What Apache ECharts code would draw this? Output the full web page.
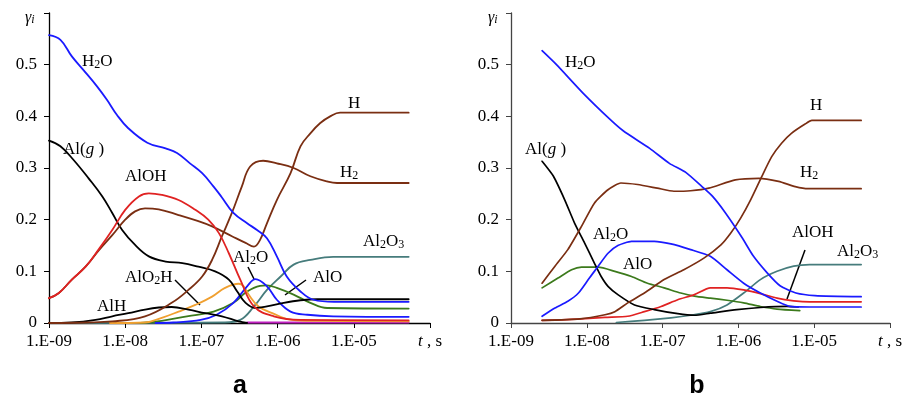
<!DOCTYPE html>
<html>
<head>
<meta charset="utf-8">
<script src="https://cdn.jsdelivr.net/npm/echarts@6/dist/echarts.min.js"></script>
<style>
html, body { margin: 0; padding: 0; background: #fff; }
#chart { width: 905px; height: 397px; }
</style>
</head>
<body>
<div id="chart"></div>
<script>
// time is kept as log10(t, s); values are mole fractions gamma_i

// ---- panel a ----
const aH2O_t = [-9, -8.85, -8.70, -8.55, -8.37, -8.24, -8.11, -7.96, -7.71, -7.47, -7.32, -7.15, -6.99, -6.84, -6.74, -6.58, -6.40, -6.27, -6.14, -6.01, -5.88, -5.70, -5.53, -5.26, -4.28];
const aH2O_v = [0.557, 0.548, 0.516, 0.490, 0.458, 0.432, 0.403, 0.377, 0.349, 0.338, 0.329, 0.309, 0.290, 0.264, 0.245, 0.213, 0.193, 0.180, 0.164, 0.129, 0.090, 0.061, 0.045, 0.041, 0.041];
const aH_t = [-9, -8.87, -8.70, -8.52, -8.35, -8.17, -8.0, -7.87, -7.74, -7.56, -7.30, -7.04, -6.86, -6.60, -6.42, -6.31, -6.23, -6.14, -6.01, -5.83, -5.70, -5.57, -5.44, -5.31, -5.18, -4.28];
const aH_v = [0.048, 0.058, 0.084, 0.109, 0.140, 0.170, 0.200, 0.216, 0.222, 0.220, 0.209, 0.197, 0.187, 0.168, 0.155, 0.148, 0.161, 0.193, 0.238, 0.290, 0.342, 0.367, 0.387, 0.400, 0.407, 0.407];
const aH2_t = [-9, -8.5, -8.17, -7.74, -7.39, -7.17, -6.99, -6.86, -6.73, -6.60, -6.47, -6.36, -6.19, -6.01, -5.79, -5.57, -5.35, -5.22, -4.28];
const aH2_v = [0, 0.001, 0.003, 0.013, 0.039, 0.064, 0.090, 0.122, 0.168, 0.213, 0.264, 0.303, 0.314, 0.309, 0.300, 0.284, 0.274, 0.271, 0.271];
const aAlOH_t = [-9, -8.87, -8.70, -8.52, -8.35, -8.17, -8.0, -7.82, -7.69, -7.52, -7.30, -7.08, -6.91, -6.77, -6.64, -6.49, -6.31, -6.05, -5.70, -4.28];
const aAlOH_v = [0.048, 0.058, 0.084, 0.109, 0.142, 0.180, 0.219, 0.245, 0.251, 0.248, 0.238, 0.219, 0.200, 0.174, 0.135, 0.084, 0.032, 0.013, 0.006, 0.005];
const aAlg_t = [-9, -8.85, -8.68, -8.48, -8.30, -8.17, -8.04, -7.87, -7.69, -7.47, -7.25, -7.04, -6.82, -6.64, -6.53, -6.42, -6.29, -6.14, -5.92, -5.70, -5.48, -4.28];
const aAlg_v = [0.353, 0.342, 0.316, 0.280, 0.245, 0.213, 0.180, 0.151, 0.129, 0.119, 0.116, 0.109, 0.100, 0.084, 0.061, 0.039, 0.029, 0.032, 0.039, 0.044, 0.046, 0.046];
const aAlH_t = [-9, -8.7, -8.39, -8.17, -7.96, -7.74, -7.56, -7.39, -7.17, -6.95, -6.73, -6.51, -6.40];
const aAlH_v = [0, 0.001, 0.006, 0.013, 0.019, 0.026, 0.030, 0.031, 0.026, 0.019, 0.013, 0.003, 0];
const aAlO2H_t = [-8.2, -7.74, -7.52, -7.30, -7.08, -6.86, -6.69, -6.51, -6.45, -6.38, -6.25, -6.07, -5.81, -5.5, -4.28];
const aAlO2H_v = [0, 0.001, 0.010, 0.022, 0.035, 0.051, 0.068, 0.076, 0.072, 0.055, 0.032, 0.019, 0.006, 0.004, 0.003];
const aAl2O_t = [-7.6, -7.37, -7.01, -6.80, -6.58, -6.40, -6.29, -6.14, -6.01, -5.83, -5.61, -5.27, -4.28];
const aAl2O_v = [0, 0.001, 0.006, 0.016, 0.039, 0.071, 0.085, 0.071, 0.045, 0.022, 0.016, 0.013, 0.012];
const aAlO_t = [-7.8, -7.52, -7.19, -6.84, -6.58, -6.40, -6.23, -6.14, -6.01, -5.79, -5.57, -5.35, -4.28];
const aAlO_v = [0, 0.004, 0.013, 0.022, 0.039, 0.061, 0.072, 0.073, 0.068, 0.055, 0.039, 0.029, 0.028];
const aAl2O3_t = [-9, -6.7, -6.49, -6.31, -6.14, -5.96, -5.79, -5.57, -5.27, -4.28];
const aAl2O3_v = [0, 0.001, 0.006, 0.032, 0.064, 0.090, 0.113, 0.122, 0.128, 0.128];
const aMinor_t = [-6.4, -4.28];
const aMinor_v = [0.001, 0.001];

// ---- panel b ----
const bH2O_t = [-8.59, -8.40, -8.05, -7.70, -7.52, -7.17, -6.91, -6.69, -6.48, -6.34, -6.17, -5.95, -5.80, -5.62, -5.45, -5.24, -4.99, -4.38];
const bH2O_v = [0.527, 0.500, 0.445, 0.395, 0.372, 0.338, 0.309, 0.291, 0.264, 0.245, 0.213, 0.165, 0.129, 0.097, 0.072, 0.058, 0.053, 0.051];
const bH_t = [-8.59, -8.09, -7.76, -7.63, -7.46, -7.24, -6.98, -6.72, -6.45, -6.23, -6.10, -5.97, -5.84, -5.69, -5.56, -5.43, -5.30, -5.12, -5.03, -4.38];
const bH_v = [0.005, 0.008, 0.016, 0.022, 0.039, 0.058, 0.084, 0.103, 0.126, 0.151, 0.174, 0.203, 0.238, 0.284, 0.322, 0.348, 0.367, 0.385, 0.392, 0.392];
const bH2_t = [-8.59, -8.42, -8.25, -8.07, -7.90, -7.72, -7.55, -7.33, -7.07, -6.85, -6.63, -6.39, -6.04, -5.73, -5.47, -5.25, -5.08, -4.38];
const bH2_v = [0.077, 0.110, 0.142, 0.187, 0.232, 0.258, 0.271, 0.268, 0.261, 0.255, 0.256, 0.261, 0.277, 0.280, 0.274, 0.264, 0.260, 0.260];
const bAlg_t = [-8.59, -8.44, -8.29, -8.16, -8.03, -7.90, -7.81, -7.72, -7.59, -7.37, -7.11, -6.80, -6.58, -6.37, -6.02, -5.71, -5.36, -5.21];
const bAlg_v = [0.313, 0.284, 0.238, 0.193, 0.155, 0.116, 0.090, 0.071, 0.055, 0.035, 0.026, 0.018, 0.015, 0.019, 0.026, 0.030, 0.032, 0.031];
const bAl2O_t = [-8.59, -8.42, -8.25, -8.11, -7.98, -7.85, -7.72, -7.59, -7.41, -7.11, -6.89, -6.63, -6.37, -6.15, -5.93, -5.71, -5.49, -5.32, -5.06, -4.38];
const bAl2O_v = [0.013, 0.029, 0.042, 0.058, 0.084, 0.110, 0.135, 0.150, 0.158, 0.158, 0.153, 0.142, 0.129, 0.103, 0.077, 0.058, 0.042, 0.032, 0.031, 0.031];
const bAlO_t = [-8.59, -8.38, -8.20, -8.07, -7.85, -7.63, -7.41, -7.20, -6.98, -6.76, -6.58, -6.37, -6.15, -5.93, -5.71, -5.49, -5.19];
const bAlO_v = [0.068, 0.087, 0.103, 0.108, 0.108, 0.100, 0.090, 0.077, 0.068, 0.058, 0.052, 0.048, 0.044, 0.039, 0.032, 0.027, 0.024];
const bAlOH_t = [-8.59, -8.33, -8.07, -7.76, -7.46, -7.24, -7.02, -6.80, -6.58, -6.37, -6.15, -5.93, -5.71, -5.49, -5.27, -5.06, -4.38];
const bAlOH_v = [0.005, 0.006, 0.008, 0.011, 0.013, 0.022, 0.032, 0.045, 0.055, 0.068, 0.068, 0.064, 0.057, 0.048, 0.043, 0.041, 0.041];
const bAl2O3_t = [-7.61, -7.24, -6.89, -6.63, -6.37, -6.15, -5.93, -5.71, -5.49, -5.27, -5.06, -4.38];
const bAl2O3_v = [0.001, 0.005, 0.010, 0.015, 0.022, 0.035, 0.058, 0.084, 0.100, 0.110, 0.113, 0.113];

const BLUE = '#1a1aff', RED = '#e02222', BROWN = '#7a2e12', BLACK = '#000000',
      GREEN = '#3c7a1c', ORANGE = '#f0a030', TEAL = '#467c7c', MAGENTA = '#c020c0';
const SERIF = '"Liberation Serif", "DejaVu Serif", serif';

function pts(ts, vs) {
  return ts.map((L, i) => [Math.pow(10, L), vs[i]]);
}

function curve(ts, vs, color, idx) {
  return {
    type: 'line',
    xAxisIndex: idx,
    yAxisIndex: idx,
    data: pts(ts, vs),
    showSymbol: false,
    smooth: idx === 0 ? 0.4 : 0.2,
    silent: true,
    lineStyle: { color: color, width: idx === 0 ? 1.8 : 1.7, cap: 'round', join: 'round' },
    itemStyle: { color: color }
  };
}

function xAxis(idx, color) {
  return {
    type: 'log',
    logBase: 10,
    gridIndex: idx,
    min: 1e-9,
    max: 1e-4,
    axisLine: { show: true, lineStyle: { color: color, width: 1.3 } },
    axisTick: { show: true, inside: false, length: 5, lineStyle: { color: color } },
    splitLine: { show: false },
    axisLabel: {
      margin: 10,
      color: '#000',
      fontFamily: SERIF,
      fontSize: 17,
      formatter: function (v) {
        const e = Math.round(Math.log10(v));
        if (e >= -4) return '{i|t}{n| , s}';
        return '1.E-' + (Math.abs(e) < 10 ? '0' : '') + Math.abs(e);
      },
      rich: {
        i: { fontFamily: SERIF, fontSize: 17, fontStyle: 'italic', color: '#000' },
        n: { fontFamily: SERIF, fontSize: 17, color: '#000' }
      }
    }
  };
}

function yAxis(idx, color) {
  return {
    type: 'value',
    gridIndex: idx,
    min: 0,
    max: 0.6,
    interval: 0.1,
    axisLine: { show: true, lineStyle: { color: color, width: 1.3 } },
    axisTick: { show: true, inside: false, length: 5, lineStyle: { color: color } },
    splitLine: { show: false },
    axisLabel: {
      margin: 12,
      color: '#000',
      fontFamily: SERIF,
      fontSize: 17,
      formatter: function (v) {
        if (v > 0.55) return '';
        if (v === 0) return '0';
        return v.toFixed(1);
      }
    }
  };
}

const rich = {
  n: { fontFamily: SERIF, fontSize: 17, color: '#000', verticalAlign: 'bottom' },
  s: { fontFamily: SERIF, fontSize: 12, color: '#000', verticalAlign: 'bottom' },
  i: { fontFamily: SERIF, fontSize: 17, fontStyle: 'italic', color: '#000', verticalAlign: 'bottom' },
  g: { fontFamily: SERIF, fontSize: 16, fontStyle: 'italic', color: '#000', verticalAlign: 'bottom' },
  gi: { fontFamily: SERIF, fontSize: 12, fontStyle: 'italic', color: '#000', verticalAlign: 'bottom' }
};

// species labels: [text, left, middle]
const labels = [
  ['{g|γ}{gi|i}', 25, 18],
  ['{n|H}{s|2}{n|O}', 82, 62],
  ['{n|Al(}{i|g}{n| )}', 63, 150],
  ['{n|AlOH}', 125, 177],
  ['{n|H}', 348, 104],
  ['{n|H}{s|2}', 340, 173],
  ['{n|Al}{s|2}{n|O}{s|3}', 363, 242],
  ['{n|Al}{s|2}{n|O}', 233, 258],
  ['{n|AlO}', 313, 278],
  ['{n|AlO}{s|2}{n|H}', 125, 278],
  ['{n|AlH}', 97, 307],
  ['{g|γ}{gi|i}', 488, 18],
  ['{n|H}{s|2}{n|O}', 565, 63],
  ['{n|Al(}{i|g}{n| )}', 525, 150],
  ['{n|H}', 810, 106],
  ['{n|H}{s|2}', 800, 173],
  ['{n|Al}{s|2}{n|O}', 593, 235],
  ['{n|AlO}', 623, 265],
  ['{n|AlOH}', 792, 233],
  ['{n|Al}{s|2}{n|O}{s|3}', 837, 252]
];

// leader lines from label to curve
const leaders = [
  [175, 280, 200, 305],
  [248, 267, 254, 279],
  [306, 280, 285, 295],
  [805, 250, 787, 299]
];

const graphic = [];
labels.forEach(function (l) {
  graphic.push({
    type: 'text', x: l[1], y: l[2], silent: true,
    style: { text: l[0], rich: rich, verticalAlign: 'middle', align: 'left' }
  });
});
leaders.forEach(function (p) {
  graphic.push({
    type: 'line', silent: true,
    shape: { x1: p[0], y1: p[1], x2: p[2], y2: p[3] },
    style: { stroke: '#000', lineWidth: 1.5 }
  });
});
graphic.push({
  type: 'text', x: 240, y: 386, silent: true,
  style: { text: 'a', align: 'center', verticalAlign: 'middle', fill: '#000', font: 'bold 25px "Liberation Sans", Arial, sans-serif' }
});
graphic.push({
  type: 'text', x: 697, y: 386, silent: true,
  style: { text: 'b', align: 'center', verticalAlign: 'middle', fill: '#000', font: 'bold 25px "Liberation Sans", Arial, sans-serif' }
});

const chart = echarts.init(document.getElementById('chart'), null, { renderer: 'canvas' });
chart.setOption({
  animation: false,
  backgroundColor: '#fff',
  grid: [
    { left: 49, top: 13, width: 381, height: 310 },
    { left: 511, top: 13, width: 381, height: 310 }
  ],
  xAxis: [xAxis(0, '#000'), xAxis(1, '#444')],
  yAxis: [yAxis(0, '#000'), yAxis(1, '#444')],
  series: [
    curve(aAl2O3_t, aAl2O3_v, TEAL, 0),
    curve(aMinor_t, aMinor_v, MAGENTA, 0),
    curve(aAlO_t, aAlO_v, GREEN, 0),
    curve(aAlO2H_t, aAlO2H_v, ORANGE, 0),
    curve(aAl2O_t, aAl2O_v, BLUE, 0),
    curve(aAlH_t, aAlH_v, BLACK, 0),
    curve(aAlg_t, aAlg_v, BLACK, 0),
    curve(aH2_t, aH2_v, BROWN, 0),
    curve(aH_t, aH_v, BROWN, 0),
    curve(aAlOH_t, aAlOH_v, RED, 0),
    curve(aH2O_t, aH2O_v, BLUE, 0),

    curve(bAl2O3_t, bAl2O3_v, TEAL, 1),
    curve(bAlO_t, bAlO_v, GREEN, 1),
    curve(bAlOH_t, bAlOH_v, RED, 1),
    curve(bAlg_t, bAlg_v, BLACK, 1),
    curve(bAl2O_t, bAl2O_v, BLUE, 1),
    curve(bH_t, bH_v, BROWN, 1),
    curve(bH2_t, bH2_v, BROWN, 1),
    curve(bH2O_t, bH2O_v, BLUE, 1)
  ],
  graphic: graphic
});
</script>
</body>
</html>
